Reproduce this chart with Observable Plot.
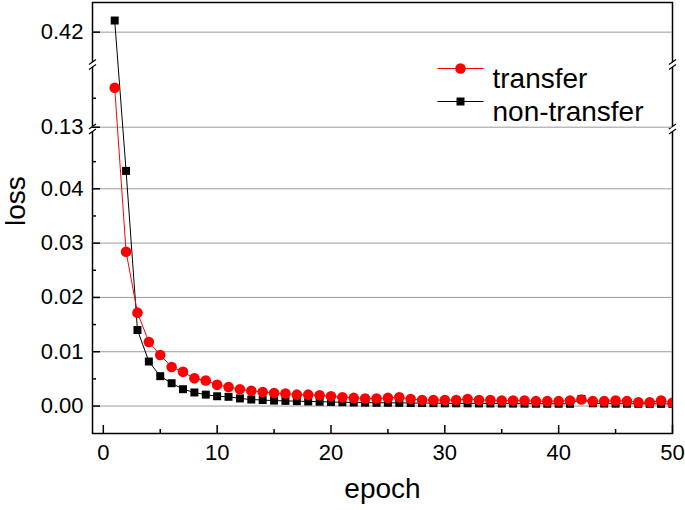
<!DOCTYPE html>
<html><head><meta charset="utf-8">
<script src="https://cdn.jsdelivr.net/npm/d3@7"></script>
<script src="https://cdn.jsdelivr.net/npm/@observablehq/plot@0.6"></script>
<style>html,body{margin:0;padding:0;background:#fff}#chart svg{display:block}</style>
</head><body><div id="chart"></div><script>
const epochs = [1,2,3,4,5,6,7,8,9,10,11,12,13,14,15,16,17,18,19,20,21,22,23,24,25,26,27,28,29,30,31,32,33,34,35,36,37,38,39,40,41,42,43,44,45,46,47,48,49,50];
const transferLoss = [0.1436,0.0284,0.0172,0.0118,0.0094,0.0072,0.0063,0.0051,0.0047,0.0039,0.0035,0.0031,0.0028,0.0026,0.0024,0.0023,0.0021,0.0021,0.0020,0.0018,0.0016,0.0015,0.0014,0.0014,0.0015,0.0016,0.0013,0.0011,0.0011,0.0011,0.0011,0.0013,0.0011,0.0011,0.0010,0.0010,0.0010,0.0009,0.0009,0.0009,0.0010,0.0012,0.0009,0.0009,0.0010,0.0009,0.0007,0.0007,0.0010,0.0006];
const nonTransferLoss = [0.424,0.0433,0.0140,0.0082,0.0055,0.0042,0.0031,0.0025,0.0021,0.0018,0.0017,0.0014,0.0012,0.0011,0.0010,0.00095,0.0009,0.00085,0.0008,0.00075,0.0007,0.00065,0.00062,0.0006,0.0006,0.00058,0.00056,0.00055,0.00053,0.0005,0.0005,0.0005,0.00048,0.00047,0.00046,0.00045,0.00044,0.00043,0.00042,0.00042,0.00041,0.0013,0.0005,0.00045,0.00043,0.00042,0.0004,0.0004,0.0004,0.00039];
const seriesNames = ["transfer", "non-transfer"];
const seriesColors = ["red", "black"];
const seriesSymbols = ["circle", "square"];
const xMajorTicks = [0,10,20,30,40,50];
const xMinorTicks = [5,15,25,35,45];
const yMajorTicks = [0.00,0.01,0.02,0.03,0.04,0.13,0.42];
const yMinorTicks = [0.005,0.015,0.025,0.035,0.045,0.14];
// broken axis: bottom [-0.005,0.05], middle [0.13,0.1506], top [0.4099,0.4302]
const yDomain = [-0.005, 0.05, 0.13, 0.1506, 0.4099, 0.4302];
const yRange = [432.7, 134, 126.7, 67, 61, 2];
const breakValues = [0.28, 0.11];
const xDomain = [-0.95, 50];

const rows = epochs.map((e, i) => ({epoch: e, loss: transferLoss[i], series: "transfer"}));
const rowsB = epochs.map((e, i) => ({epoch: e, loss: nonTransferLoss[i], series: "non-transfer"}));
const breakRows = [];
for (const v of breakValues) for (const x of xDomain) breakRows.push({x, y: v});

const slashFill = {draw(c) { c.moveTo(-3.5, 0); c.lineTo(3.5, -5); c.lineTo(3.5, 0); c.lineTo(-3.5, 5); c.closePath(); }};
const slashes = {draw(c) { c.moveTo(-3.5, 0); c.lineTo(3.5, -5); c.moveTo(-3.5, 5); c.lineTo(3.5, 0); }};
const legendLine = {draw(c) { c.moveTo(-23, 0); c.lineTo(23, 0); }};

const legendMarks = [];
seriesNames.forEach((name, i) => {
  const dy = 66 + 33 * i;
  legendMarks.push(Plot.dot([name], {frameAnchor: "top-left", dx: 368, dy, symbol: legendLine, stroke: seriesColors[i], strokeWidth: 1}));
  legendMarks.push(Plot.dot([name], {frameAnchor: "top-left", dx: 368, dy, symbol: seriesSymbols[i], fill: seriesColors[i], stroke: "none", r: i === 0 ? 5.3 : 4.5}));
  legendMarks.push(Plot.text([name], {frameAnchor: "top-left", dx: 400, dy, text: d => d, textAnchor: "start", fontSize: 28}));
});

const chart = Plot.plot({
  width: 685, height: 510,
  marginLeft: 92, marginRight: 13, marginTop: 2, marginBottom: 77,
  style: {fontFamily: "'Liberation Sans', Arial, sans-serif", color: "black", background: "white"},
  x: {domain: xDomain},
  y: {type: "linear", domain: yDomain, range: yRange},
  marks: [
    Plot.frame({stroke: "black", strokeWidth: 1.5}),
    Plot.dot(breakRows, {x: "x", y: "y", symbol: slashFill, fill: "white", stroke: "none"}),
    Plot.dot(breakRows, {x: "x", y: "y", symbol: slashes, stroke: "black", strokeWidth: 1.2, fill: "none"}),
    Plot.gridY(yMajorTicks, {stroke: "#9a9a9a", strokeOpacity: 1, strokeWidth: 1}),
    Plot.axisY(yMajorTicks, {anchor: "left", tickSize: -8, strokeWidth: 1.5, tickFormat: d3.format(".2f"), fontSize: 22, label: null}),
    Plot.axisY(yMinorTicks, {anchor: "left", tickSize: -4, strokeWidth: 1.5, tickFormat: () => "", label: null}),
    Plot.axisX(xMajorTicks, {anchor: "bottom", tickSize: -8, strokeWidth: 1.5, tickPadding: 19, fontSize: 22, label: null}),
    Plot.axisX(xMinorTicks, {anchor: "bottom", tickSize: -4, strokeWidth: 1.5, tickFormat: () => "", label: null}),
    Plot.line(rowsB, {x: "epoch", y: "loss", stroke: "black", strokeWidth: 1, clip: true}),
    Plot.line(rows, {x: "epoch", y: "loss", stroke: "red", strokeWidth: 1, clip: true}),
    Plot.dot(rowsB, {x: "epoch", y: "loss", symbol: "square", fill: "black", r: 4.5, clip: true}),
    Plot.dot(rows, {x: "epoch", y: "loss", symbol: "circle", fill: "red", r: 5.3, clip: true}),
    ...legendMarks,
    Plot.text(["epoch"], {frameAnchor: "bottom", dy: 64, text: d => d, fontSize: 28}),
    Plot.text(["loss"], {frameAnchor: "left", dx: -76, dy: 8, rotate: -90, text: d => d, fontSize: 28})
  ]
});
document.getElementById("chart").append(chart);
</script></body></html>
